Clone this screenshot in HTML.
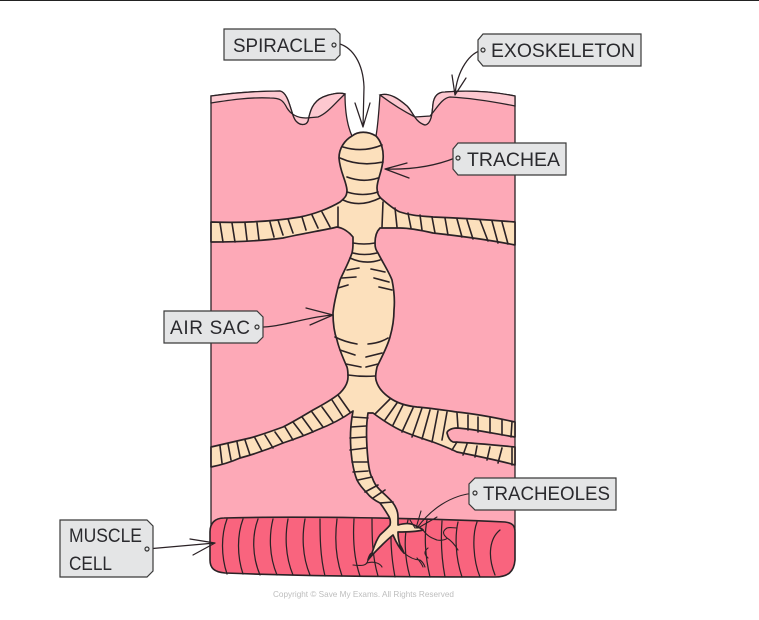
<!DOCTYPE html>
<html><head><meta charset="utf-8"><style>
html,body{margin:0;padding:0;background:#fff;width:759px;height:620px;overflow:hidden}
svg{display:block}
text{font-family:"Liberation Sans",sans-serif;fill:#2a2a2e}
.l{fill:#e4e5e6;stroke:#3a3a3a;stroke-width:1.2}
.k{fill:none;stroke:#2b2226;stroke-width:1.6;stroke-linecap:round;stroke-linejoin:round}
.m{fill:none;stroke:#2b2226;stroke-width:1.25;stroke-linecap:round;stroke-linejoin:round}
.f{fill:none;stroke:#2b2226;stroke-width:1.1;stroke-linecap:round;stroke-linejoin:round}
.t{fill:#fce0bc;stroke:#2b2226;stroke-width:1.7;stroke-linejoin:round}
.h{fill:none;stroke:#333;stroke-width:1.2}
</style></head><body>
<svg width="759" height="620" viewBox="0 0 759 620" xmlns="http://www.w3.org/2000/svg">
<rect width="759" height="620" fill="#fff"/>
<rect width="759" height="1" fill="#222"/>
<!-- body -->
<path d="M211,96 C240,92 265,91 280,91 C290,93 291,118 297,122 C300,125 306,126 308,121 C310,112 312,102 323,97 C330,94 340,92 345,94 C345,110 347,125 352,136 L376,136 C378,125 379,110 380,95 C390,92 400,100 407,106 C413,112 415,122 425,125 C431,124 432,115 433,104 C434,96 438,92 445,92 C470,90 495,92 515,96 L515,530 L211,530 Z" fill="#fda9b7" stroke="#2b2226" stroke-width="1.3"/>
<!-- exoskeleton band -->
<path d="M211,96 C240,92 265,91 280,91 C290,93 291,118 297,122 C300,125 306,126 308,121 C310,112 312,102 323,97 C330,94 340,92 345,94 C336,102 328,113 318,117 L306,118 C296,118 290,113 287,108 C283,100 280,98 270,98 C250,97 230,100 211,103 Z" fill="#fdc8d0" stroke="#2b2226" stroke-width="1.3"/>
<path d="M380,95 C390,92 400,100 407,106 C413,112 415,122 425,125 C431,124 432,115 433,104 C434,96 438,92 445,92 C470,90 495,92 515,96 L515,106 C495,102 470,98 450,97 C442,98 437,108 430,116 L415,117 C405,112 392,104 380,95 Z" fill="#fdc8d0" stroke="#2b2226" stroke-width="1.3"/>
<!-- muscle -->
<path d="M224,518 C300,516 420,518 505,522 C513,523 515,526 515,532 L515,560 C514,572 508,577 495,577 C400,577 300,576 225,573 C214,572 210,568 210,560 L210,532 C210,523 215,518 224,518 Z" fill="#f9647e" stroke="#2b2226" stroke-width="1.6"/>
<path class="m" d="M227,519 C221,535 221,556 227,574 M243,519 C237,535 237,556 243,574 M258,519 C252,535 252,556 260,575 M273,519 C269,535 269,556 277,575 M288,519 C285,535 285,556 293,575 M305,519 C302,535 302,556 310,575 M320,519 C320,535 320,556 325,576 M337,519 C335,535 335,556 342,576 M354,519 C353,535 353,556 360,576 M372,519 C372,535 372,556 378,576 M392,522 C390,535 391,556 395,577 M408,520 C404,535 404,556 410,577 M427,520 C424,535 425,556 430,577 M442,521 C441,535 441,556 445,577 M458,522 C455,535 455,556 462,577 M477,522 C472,535 473,560 480,577 M500,530 C490,538 487,555 495,575"/>
<!-- trachea main -->
<path class="t" d="M352,136 C358,131 368,131 376,136 C381,141 384,150 383,160 C382,172 377,180 377,188 C377,195 380,198 383,200 C390,206 395,210 400,212 C412,216 422,216 433,217 C460,218 490,220 515,222 L515,245 C490,240 460,236 433,233 C420,230 410,228 400,228 L380,228 C376,232 375,238 375,243 C375,248 376,250 378,253 C383,263 389,272 392,280 C394,290 395,300 394,310 C394,320 392,330 390,337 C387,348 381,358 377,367 C376,372 375,376 376,380 C378,388 384,394 390,398 C397,403 407,406 417,407 C430,408 443,410 457,412 C477,414 497,418 515,422 L515,437 C495,434 475,429 457,428 C451,428 447,431 447,433 C448,437 450,441 453,442 C475,443 495,445 515,447 L515,465 C497,460 477,456 457,452 C449,448 441,445 433,442 C421,438 411,435 400,430 C390,425 381,419 373,413 L368,413 C366,425 366,440 368,460 C369,470 371,477 372,477 C374,483 376,486 380,490 C385,495 389,498 393,503 C396,507 398,512 398,517 L398,525 C405,523 410,523 414,525 C418,527 421,528 423,530 C415,532 405,532 398,532 C398,538 399,542 400,545 C402,548 403,551 404,553 C400,549 396,542 393,535 C388,539 384,543 380,547 C375,552 371,556 368,560 C369,556 370,554 372,553 C374,547 376,540 380,535 C384,531 388,528 390,525 C391,521 390,518 388,515 C385,510 383,507 380,503 C374,500 370,497 367,493 C362,488 359,484 357,480 C354,473 353,466 352,460 C350,445 350,430 352,417 L353,411 C342,419 330,425 317,430 C306,435 295,439 283,443 C269,449 255,454 240,458 C231,462 221,465 211,467 L211,447 C224,444 237,441 250,438 C261,435 272,431 283,427 C293,422 303,416 313,410 C322,405 332,400 340,393 C345,388 348,383 348,377 C348,373 348,370 347,367 C343,358 339,349 337,340 C334,332 333,322 333,313 C334,302 337,291 340,280 C344,271 349,262 352,253 C353,249 353,246 353,243 C353,241 353,238 353,237 C349,232 343,228 337,227 C325,230 305,233 283,238 C260,241 235,242 211,242 L211,222 C240,223 270,222 300,217 C315,214 330,208 340,202 C346,197 347,195 347,190 C346,180 340,172 339,158 C339,148 345,140 352,136 Z"/>
<!-- trachea rings -->
<path class="k" d="M343,147 Q363,153 382,145 M340,158 Q360,167 383,162 M347,177 Q363,183 378,178 M347,192 Q363,197 378,192 M343,200 Q360,208 380,198"/>
<path class="k" d="M338,207 L338,227 M383,202 L382,227"/>
<path class="k" d="M353,243 Q364,245 375,243 M353,253 Q364,256 377,253 M350,258 Q365,265 380,260"/>
<path class="k" d="M347,270 L359,268 M342,278 L356,277 M338,288 L348,285 M371,269 L385,272 M374,278 L389,282 M379,287 L392,290"/>
<path class="k" d="M335,337 Q345,342 357,344 M368,344 Q380,343 388,338 M340,350 L355,355 M366,357 L382,353 M346,364 L361,367 M366,367 L378,364 M348,375 Q362,377 375,376"/>
<!-- upper left ring ticks -->
<path class="k" d="M220,223 L223,242 M232,223 L235,242 M245,223 L247,240 M257,223 L259,240 M270,222 L274,237 M278,220 L283,235 M288,219 L293,233 M302,217 L306,230 M312,215 L318,228 M322,212 L330,227"/>
<!-- upper right ring ticks -->
<path class="k" d="M395,208 L397,227 M408,213 L411,228 M420,215 L422,230 M432,217 L435,233 M445,218 L448,235 M457,219 L462,237 M467,220 L473,239 M480,220 L488,241 M492,221 L498,243 M502,222 L508,244"/>
<!-- lower left ticks -->
<path class="k" d="M338,395 L350,412 M332,400 L343,417 M322,407 L333,422 M312,412 L323,427 M302,417 L313,432 M293,422 L303,435 M285,427 L293,440 M275,432 L283,443 M265,435 L273,448 M255,438 L262,451 M245,440 L250,455 M237,442 L240,457 M228,444 L231,460 M220,446 L222,463"/>
<!-- lower right ticks -->
<path class="k" d="M390,399 L375,414 M397,403 L385,420 M403,405 L393,425 M413,408 L402,432 M422,408 L412,437 M430,410 L422,439 M438,411 L432,442 M447,412 L442,440 M457,413 L458,428 M468,415 L468,430 M478,417 L478,432 M490,418 L490,433 M502,420 L502,435 M512,422 L511,437"/>
<path class="k" d="M457,442 L452,450 M467,444 L463,455 M477,446 L475,457 M490,447 L487,460 M502,448 L498,463 M512,448 L512,465"/>
<!-- lower tube ticks -->
<path class="k" d="M353,417 L368,418 M351,427 L366,426 M350,438 L366,437 M350,450 L366,448 M352,462 L368,462 M353,472 L368,471 M358,480 L372,477 M365,492 L378,485 M373,498 L385,490 M380,503 L393,502"/>
<!-- tracheole lines -->
<path class="f" d="M368,560 C367,566 362,566 353,565 M367,563 C373,561 380,563 382,567 M404,553 C410,558 415,560 420,560 C424,563 424,565 425,567 M417,558 C420,562 422,564 423,567 M428,548 C423,552 425,555 428,558 M423,530 C428,537 432,538 437,540 C443,541 447,539 447,538 C452,541 455,545 458,550 M447,538 C441,533 444,530 447,528 C450,527 453,528 457,528"/>
<path class="f" d="M421,511 L416,528 M437,517 L418,528 M410,520 L415,528"/>
<!-- connectors -->
<path class="m" d="M340,44 C352,48 363,62 364,87 L363,127 M355,103 L363,127 L370,103"/>
<path class="m" d="M483,50 C470,52 457,70 455,95 M452,75 L455,95 L466,78"/>
<path class="m" d="M455,158 C440,164 417,170 385,169 M407,163 L385,169 L409,178"/>
<path class="m" d="M257,327 C280,328 305,317 333,315 M306,308 L333,315 L310,325"/>
<path class="f" d="M475,493 C450,495 430,510 417,528"/>
<path class="m" d="M147,549 L215,543 M190,539 L215,543 L193,555"/>
<!-- labels -->
<polygon class="l" points="224,29 335,29 340,34 340,55 335,60 224,60"/>
<polygon class="l" points="483,34 641,34 641,66 483,66 478,60 478,40"/>
<polygon class="l" points="458,143 566,143 566,175 458,175 453,169 453,149"/>
<polygon class="l" points="164,311 257,311 263,317 263,337 257,343 164,343"/>
<polygon class="l" points="475,478 616,478 616,510 475,510 469,504 469,484"/>
<polygon class="l" points="60,520 147,520 153,526 153,571 147,577 60,577"/>
<circle class="h" cx="334" cy="45" r="2"/><circle class="h" cx="483" cy="50" r="2"/><circle class="h" cx="458" cy="158" r="2"/><circle class="h" cx="257" cy="327" r="2"/><circle class="h" cx="475" cy="493" r="2"/><circle class="h" cx="147" cy="549" r="2"/>
<text x="233" y="52" font-size="19" textLength="93" lengthAdjust="spacingAndGlyphs">SPIRACLE</text>
<text x="491" y="57" font-size="19" textLength="144" lengthAdjust="spacingAndGlyphs">EXOSKELETON</text>
<text x="467" y="166" font-size="19" textLength="93" lengthAdjust="spacingAndGlyphs">TRACHEA</text>
<text x="170" y="334" font-size="19" textLength="80" lengthAdjust="spacing">AIR SAC</text>
<text x="483" y="500" font-size="19" textLength="127" lengthAdjust="spacingAndGlyphs">TRACHEOLES</text>
<text x="69" y="542" font-size="19" textLength="73" lengthAdjust="spacingAndGlyphs">MUSCLE</text>
<text x="69" y="570" font-size="19" textLength="43" lengthAdjust="spacingAndGlyphs">CELL</text>
<text x="273" y="597" font-size="8.5" textLength="181" lengthAdjust="spacingAndGlyphs" style="fill:#bdbdbd">Copyright © Save My Exams. All Rights Reserved</text>
</svg>
</body></html>
